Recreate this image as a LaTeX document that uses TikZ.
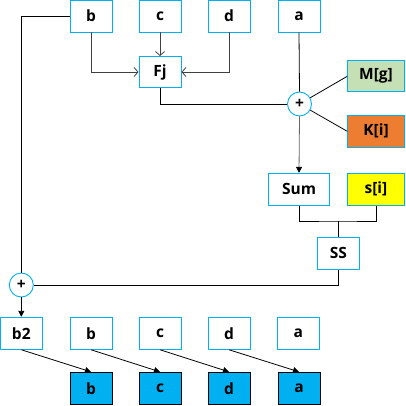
\documentclass[tikz,border=0pt]{standalone}
\usepackage{fontspec}
\setmainfont{Open Sans}
\usetikzlibrary{arrows.meta,positioning}
\definecolor{skyblue}{HTML}{00B0F0}
\definecolor{mgreen}{HTML}{C5E0B4}
\definecolor{korange}{HTML}{ED7D31}
\definecolor{syellow}{HTML}{FFFF00}

\begin{document}
\begin{tikzpicture}[x=1pt, y=-1pt,
    box/.style={draw=skyblue, line width=0.9pt, fill=white, minimum width=42pt, minimum height=32pt, inner sep=0pt, font=\fontsize{15.5}{18}\selectfont\bfseries},
    outbox/.style={box, draw=black, fill=skyblue},
    xorop/.style={draw=skyblue, line width=0.9pt, circle, fill=white, minimum size=24pt, inner sep=0pt, font=\fontsize{15.5}{18}\selectfont\bfseries},
    line/.style={line width=0.8pt},
    openarrow/.style={line, draw=black!75, -{Straight Barb[length=4pt, width=9pt]}},
    arrow/.style={line, -{Triangle[length=6pt, width=6pt, color=black]}}
]
\useasboundingbox (0,0) rectangle (405,406);

% Input words
\node[box] (tb) at (91,16) {b};
\node[box] (tc) at (160,16) {c};
\node[box] (td) at (229,16) {d};
\node[box] (ta) at (299,16) {a};

% Round function
\node[box, minimum height=31pt] (fj) at (160,72) {Fj};
\node[xorop] (p1) at (299.5,104) {+};
\node[box, fill=mgreen, minimum width=56.6pt, minimum height=31.3pt] (mg) at (376,76.3) {M[g]};
\node[box, fill=korange, minimum width=56.6pt, minimum height=31.3pt] (ki) at (376,131.3) {K[i]};

% Shift stage
\node[box, minimum width=61.4pt] (sum) at (299,189.3) {Sum};
\node[box, fill=syellow, minimum width=56.6pt] (si) at (376,189.3) {s[i]};
\node[box] (ss) at (338.3,253.3) {SS};
\coordinate (join) at (338.3,221);

% Final addition
\node[xorop] (p2) at (21.3,285) {+};

% New words
\node[box] (b2) at (21.3,333.3) {b2};
\node[box] (rb) at (91,333.3) {b};
\node[box] (rc) at (160,333.3) {c};
\node[box] (rd) at (229,333.3) {d};
\node[box] (ra) at (298.3,333.3) {a};

% Rotated words
\node[outbox] (fb) at (91,388.3) {b};
\node[outbox] (fc) at (160,388.3) {c};
\node[outbox] (fd) at (229,388.3) {d};
\node[outbox] (fa) at (299,388.3) {a};

% Connections
\draw[openarrow] (tb.south) |- (fj.west);
\draw[openarrow] (tc.south) -- (fj.north);
\draw[openarrow] (td.south) |- (fj.east);
\draw[line] (fj.south) |- (p1.west);
\draw[line] (ta.south) -- (p1.north);
\draw[line] (p1) -- (mg.west);
\draw[line] (p1) -- (ki.west);
\draw[arrow, draw=black!60] (p1.south) -- (sum.north);
\draw[line] (sum.south) |- (join) -| (si.south);
\draw[line] (ss.north) -- (join);
\draw[line] (ss.south) |- (p2.east);
\draw[line] (tb.west) -| (p2.north);
\draw[arrow] (p2.south) -- (b2.north);

\draw[arrow] (b2.south) -- (fb.north);
\draw[arrow] (rb.south) -- (fc.north);
\draw[arrow] (rc.south) -- (fd.north);
\draw[arrow] (rd.south) -- (fa.north);

\end{tikzpicture}
\end{document}
